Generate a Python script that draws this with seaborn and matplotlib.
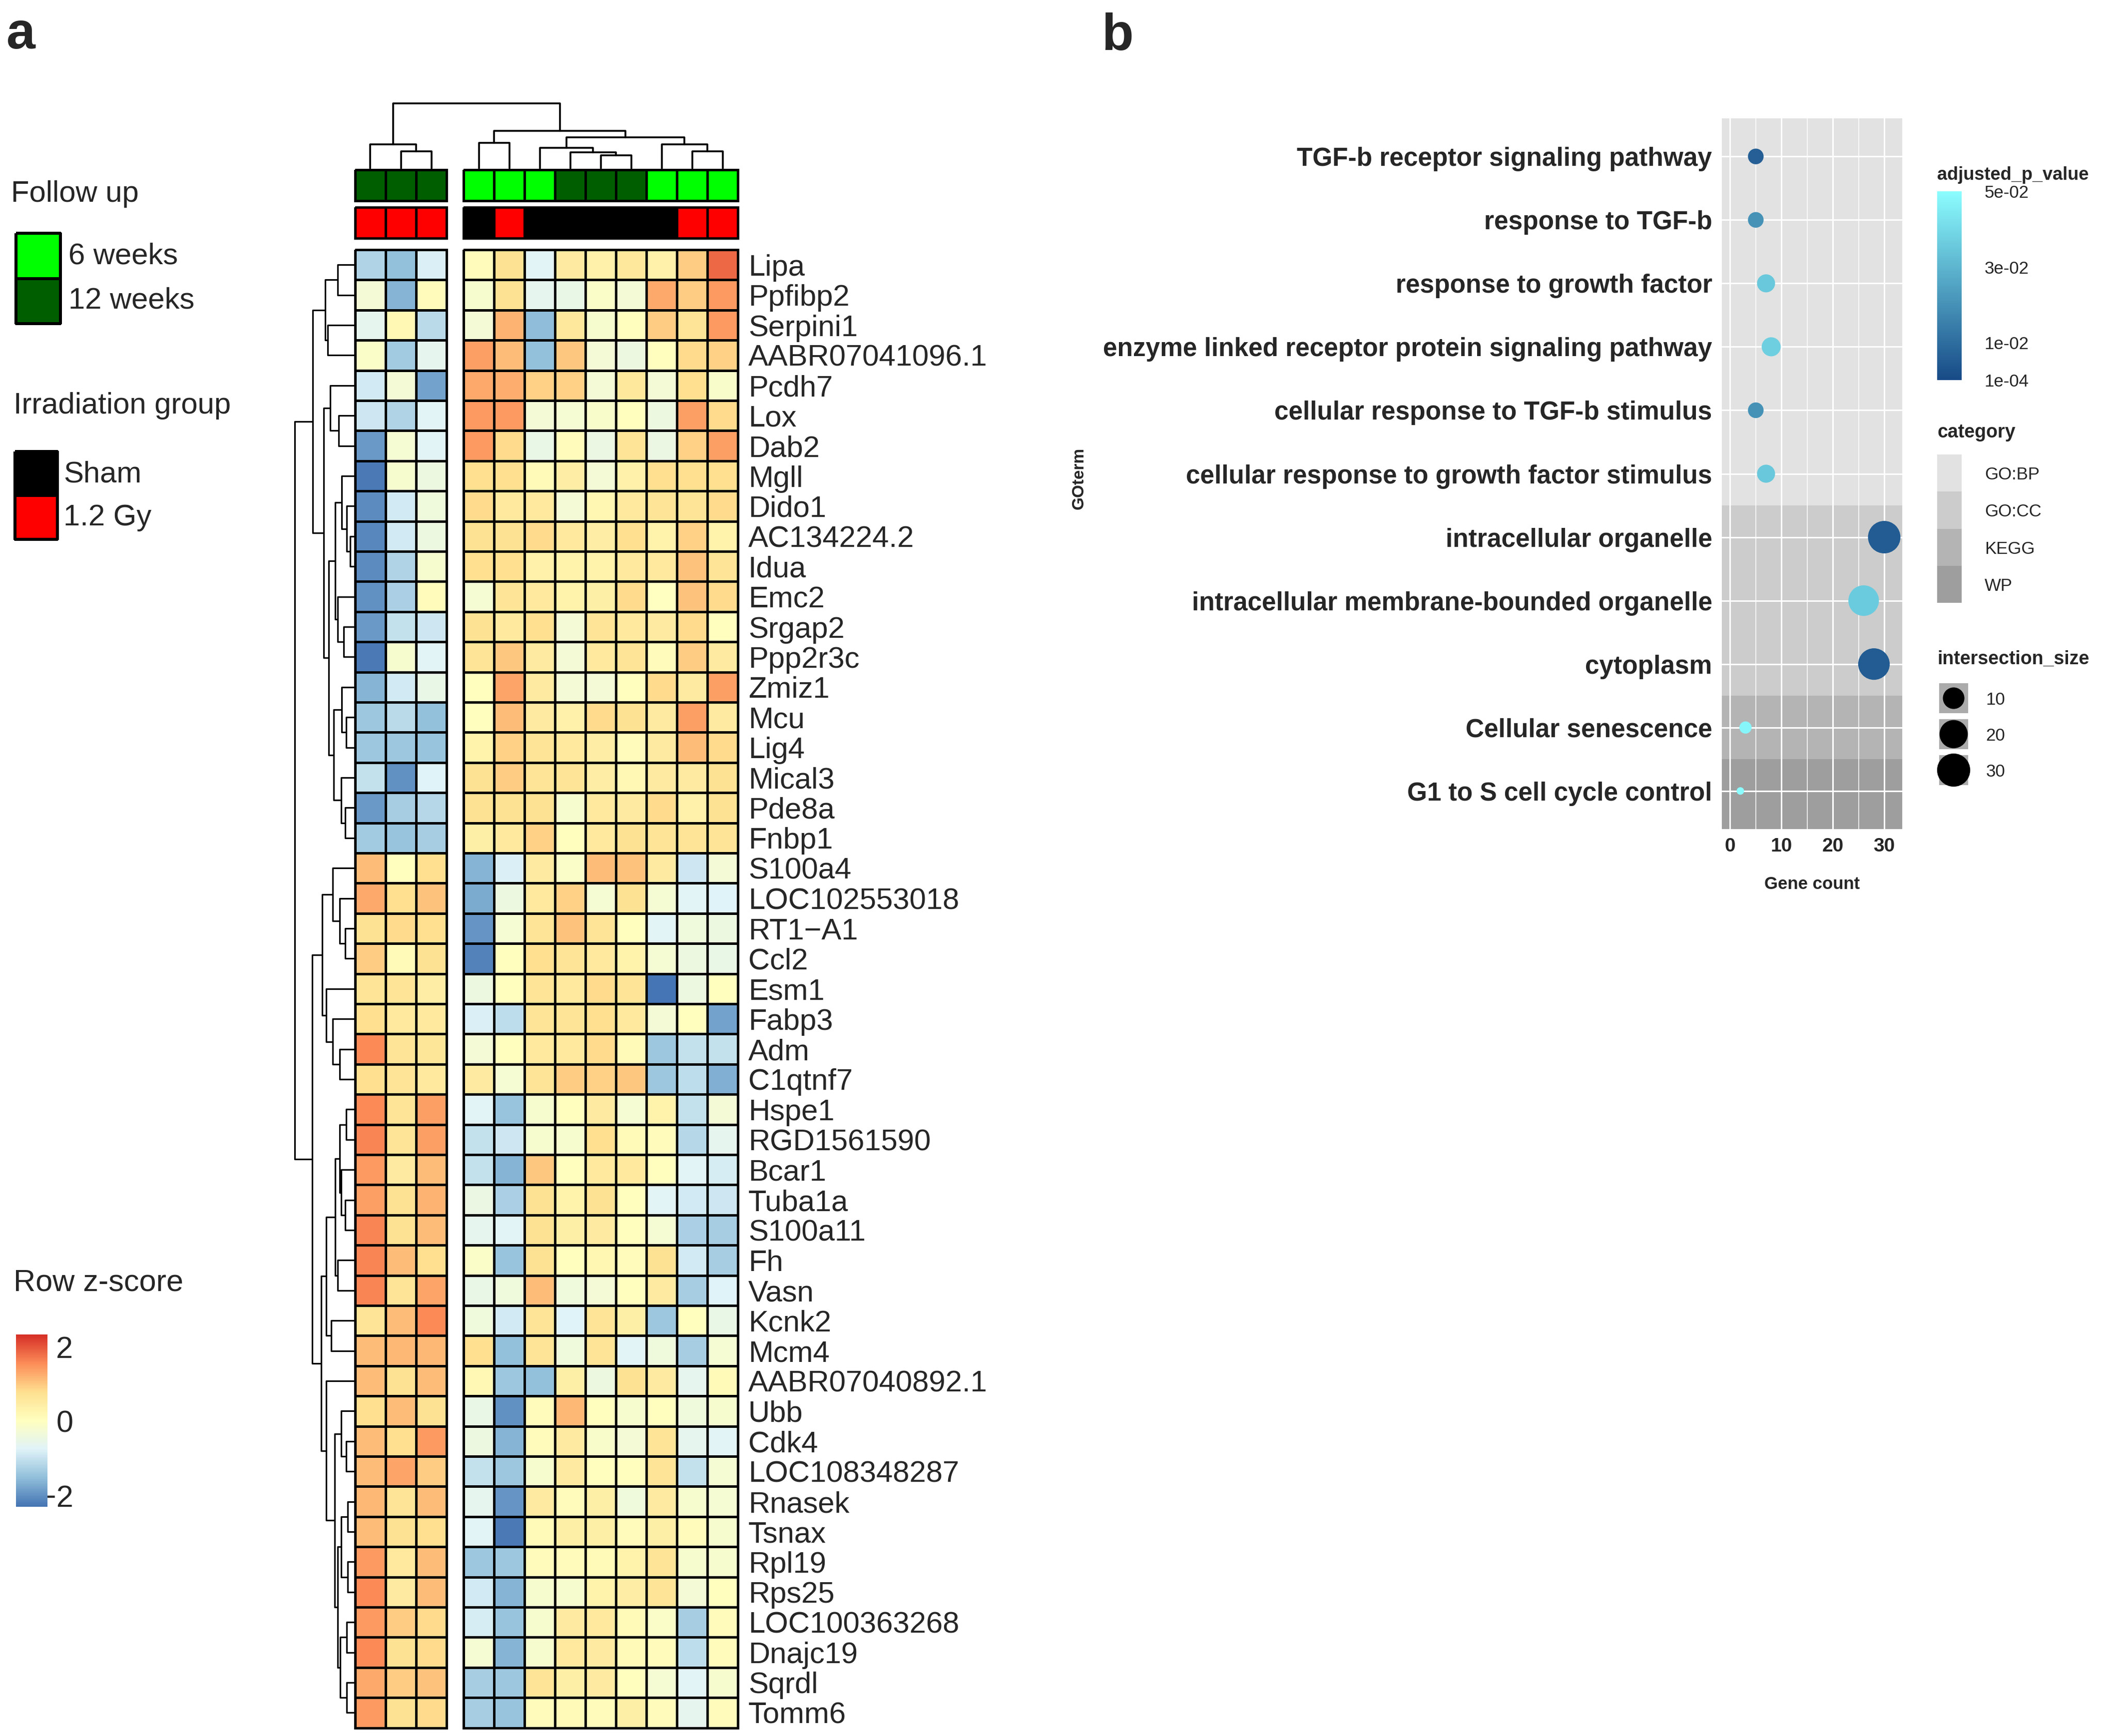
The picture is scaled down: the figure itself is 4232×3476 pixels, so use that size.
import numpy as np
import pandas as pd
import matplotlib
matplotlib.use("Agg")
import matplotlib.pyplot as plt
from matplotlib.colors import LinearSegmentedColormap, ListedColormap, Normalize
from matplotlib.cm import ScalarMappable
from matplotlib.patches import Rectangle
import seaborn as sns

sns.set_style("white")
plt.rcParams["font.family"] = ["Liberation Sans", "DejaVu Sans"]

# ---------------- panel a: heatmap data ----------------
genes = ["Lipa", "Ppfibp2", "Serpini1", "AABR07041096.1", "Pcdh7", "Lox", "Dab2",
         "Mgll", "Dido1", "AC134224.2", "Idua", "Emc2", "Srgap2", "Ppp2r3c", "Zmiz1",
         "Mcu", "Lig4", "Mical3", "Pde8a", "Fnbp1", "S100a4", "LOC102553018",
         "RT1\u2212A1", "Ccl2", "Esm1", "Fabp3", "Adm", "C1qtnf7", "Hspe1", "RGD1561590",
         "Bcar1", "Tuba1a", "S100a11", "Fh", "Vasn", "Kcnk2", "Mcm4", "AABR07040892.1",
         "Ubb", "Cdk4", "LOC108348287", "Rnasek", "Tsnax", "Rpl19", "Rps25",
         "LOC100363268", "Dnajc19", "Sqrdl", "Tomm6"]
samples = ["S%d" % i for i in range(1, 13)]
n_left = 3  # samples in the first column cluster

follow_up = ["12 weeks"] * 3 + ["6 weeks"] * 3 + ["12 weeks"] * 3 + ["6 weeks"] * 3
irradiation = ["1.2 Gy"] * 3 + ["Sham", "1.2 Gy", "Sham", "Sham", "Sham", "Sham",
                                "Sham", "1.2 Gy", "1.2 Gy"]

zscore = [
    [-1.2, -1.5, -0.8, 0.1, 0.75, -0.7, 0.5, 0.35, 0.6, 0.35, 0.95, 1.85],
    [-0.3, -1.6, 0.1, -0.2, 0.75, -0.6, -0.5, -0.1, -0.3, 1.3, 0.95, 1.45],
    [-0.6, 0.2, -1.1, -0.3, 1.2, -1.55, 0.6, -0.2, 0.05, 0.95, 0.7, 1.45],
    [-0.1, -1.35, -0.6, 1.4, 1.1, -1.5, 1.0, -0.3, -0.4, 0.05, 0.85, 0.9],
    [-0.9, -0.3, -1.8, 1.3, 1.25, 0.9, 0.9, -0.3, 0.6, -0.3, 0.8, -0.15],
    [-0.95, -1.2, -0.7, 1.45, 1.45, -0.3, -0.25, -0.15, 0.05, -0.4, 1.4, 0.85],
    [-1.9, -0.25, -0.7, 1.45, 0.85, -0.5, 0.1, -0.45, 0.7, -0.45, 0.9, 1.4],
    [-2.2, -0.2, -0.4, 0.8, 0.8, 0.15, 0.45, -0.3, 0.35, 0.8, 0.8, 0.8],
    [-2.05, -0.9, -0.35, 0.85, 0.55, 0.55, -0.3, 0.25, 0.55, 0.7, 0.7, 0.85],
    [-2.1, -0.9, -0.4, 0.75, 0.75, 0.85, 0.55, 0.45, 0.8, 0.3, 0.9, 0.3],
    [-2.05, -1.2, -0.2, 0.8, 0.8, 0.35, 0.3, 0.3, 0.55, 0.55, 1.05, 0.7],
    [-2.0, -1.25, 0.1, -0.25, 0.7, 0.55, 0.3, 0.4, 0.85, 0.0, 1.05, 0.85],
    [-1.9, -1.0, -0.95, 0.75, 0.55, 0.8, -0.3, 0.7, 0.55, 0.5, 0.85, 0.05],
    [-2.2, -0.2, -0.7, 0.7, 1.0, 0.5, -0.3, 0.55, 0.7, 0.1, 0.95, 0.5],
    [-1.6, -0.9, -0.5, 0.05, 1.35, 0.5, -0.3, -0.3, 0.05, 0.85, 0.5, 1.4],
    [-1.4, -1.1, -1.5, 0.05, 1.1, 0.5, 0.35, 0.85, 0.75, 0.5, 1.4, 0.5],
    [-1.4, -1.4, -1.45, 0.3, 0.9, 0.7, 0.55, 0.45, 0.1, 0.5, 1.1, 0.85],
    [-1.0, -2.0, -0.75, 0.75, 0.95, 0.7, 0.7, 0.45, 0.2, 0.5, 0.5, 0.75],
    [-1.9, -1.3, -1.15, 0.75, 0.75, 0.75, -0.2, 0.55, 0.5, 0.85, 0.35, 0.75],
    [-1.35, -1.45, -1.3, 0.4, 0.55, 0.9, 0.05, 0.55, 0.75, 0.7, 0.7, 0.7],
    [1.1, 0.05, 0.8, -1.6, -0.8, 0.5, -0.1, 1.1, 1.05, 0.5, -0.95, -0.3],
    [1.3, 0.8, 1.05, -1.7, -0.4, 0.55, 0.9, -0.25, 0.75, -0.25, -0.7, -0.75],
    [0.75, 0.85, 0.8, -1.95, -0.25, 0.7, 1.05, 0.7, 0.05, -0.7, -0.35, -0.4],
    [0.95, 0.15, 0.75, -2.15, 0.05, 0.8, 0.7, 0.55, 0.3, -0.25, -0.4, -0.5],
    [0.7, 0.7, 0.45, -0.4, 0.05, 0.7, 0.55, 0.85, 0.7, -2.25, -0.4, 0.05],
    [0.8, 0.55, 0.55, -0.8, -1.05, 0.7, 0.7, 0.8, 0.55, -0.3, 0.05, -1.8],
    [1.55, 0.7, 0.65, -0.3, 0.05, 0.55, 0.55, 0.85, 0.15, -1.4, -1.0, -1.0],
    [0.8, 0.7, 0.55, 0.5, -0.25, 0.7, 0.95, 0.9, 1.0, -1.4, -1.05, -1.65],
    [1.55, 0.7, 1.4, -0.7, -1.45, -0.2, 0.05, 0.5, -0.25, 0.3, -1.0, -0.3],
    [1.6, 0.7, 1.4, -1.0, -0.95, -0.2, -0.2, 0.8, 0.15, 0.1, -1.15, -0.6],
    [1.45, 0.5, 1.1, -1.0, -1.6, 1.0, 0.05, 0.55, 0.55, 0.05, -0.7, -0.85],
    [1.4, 0.75, 1.2, -0.45, -1.25, 0.75, 0.3, 0.75, 0.05, -0.7, -0.9, -0.95],
    [1.6, 0.75, 1.1, -0.6, -0.7, 0.75, 0.4, 0.5, 0.05, -0.25, -1.25, -1.3],
    [1.6, 1.1, 0.8, -0.1, -1.45, 0.75, 0.05, 0.25, 0.1, 0.75, -0.9, -1.3],
    [1.6, 0.7, 1.35, -0.5, -0.35, 1.1, -0.35, -0.3, 0.05, 0.5, -1.3, -0.75],
    [0.7, 1.1, 1.55, -0.35, -0.9, 0.7, -0.75, 0.7, 0.4, -1.4, 0.05, -0.5],
    [1.1, 1.15, 1.15, 0.8, -1.5, 0.7, -0.35, 0.7, -0.7, -0.35, -1.3, -0.25],
    [1.1, 0.75, 1.1, 0.2, -1.4, -1.5, 0.4, -0.4, 0.75, 0.5, -0.6, 0.15],
    [0.8, 1.1, 0.75, -0.5, -2.0, 0.1, 1.15, 0.05, -0.2, 0.05, -0.35, -0.2],
    [1.1, 0.8, 1.45, -0.4, -1.6, 0.1, 0.5, -0.15, -0.3, 0.7, -0.6, -0.7],
    [1.1, 1.35, 0.95, -1.0, -1.4, -0.2, 0.5, 0.05, 0.05, 0.7, -1.0, -0.25],
    [1.15, 0.7, 1.1, -0.6, -1.95, 0.5, 0.1, 0.4, -0.35, 0.5, -0.2, -0.25],
    [1.1, 0.75, 0.8, -0.7, -2.2, 0.15, 0.4, 0.4, 0.1, 0.4, 0.1, -0.2],
    [1.45, 0.55, 1.1, -1.4, -1.4, 0.1, 0.1, 0.15, 0.3, 0.7, -0.2, -0.2],
    [1.55, 0.5, 1.1, -0.9, -1.6, -0.2, -0.2, 0.3, 0.45, 0.7, -0.3, 0.05],
    [1.45, 0.95, 0.85, -0.85, -1.45, -0.2, 0.5, 0.55, 0.15, -0.1, -1.3, 0.1],
    [1.55, 0.75, 0.85, -0.25, -1.6, -0.2, 0.55, 0.5, 0.15, 0.1, -1.05, 0.1],
    [1.3, 0.95, 1.05, -1.3, -1.4, 0.7, 0.4, 0.5, 0.05, -0.25, -0.7, -0.2],
    [1.45, 0.75, 0.85, -1.3, -1.45, 0.1, 0.15, 0.1, 0.4, 0.1, -0.6, 0.1],
]

# dendrograms as nested [left, right, height]; ints are leaf indices
row_tree = [
    [[[0, 1, 105], [2, 3, 165], 180],
     [[4, [5, 6, 100], 150],
      [[[7, [8, [9, 10, 30], 50], 80], [11, [12, 13, 70], 105], 120],
       [[14, [15, 16, 55], 80], [17, [18, 19, 60], 85], 130], 160], 190], 255],
    [[[20, [21, [22, 23, 60], 95], 135], [24, [25, [26, 27, 95], 135], 175], 200],
     [[[[[28, 29, 55], [30, [31, 32, 60], 85], 95], [33, 34, 105], 120], [35, 36, 145], 175],
      [37, [[38, [39, 40, 55], 85],
            [[[41, 42, 45], [43, 44, 45], 85], [[45, 46, 50], [47, 48, 50], 90], 105], 125], 175],
      205], 260],
    365]
col_tree = [[0, [1, 2, 100], 140],
            [[3, 4, 150], [[5, [6, [7, 8, 75], 95], 120], [9, [10, 11, 100], 140], 180], 220],
            380]

# ---------------- panel b: enrichment data ----------------
go_terms = ["TGF-b receptor signaling pathway", "response to TGF-b",
            "response to growth factor", "enzyme linked receptor protein signaling pathway",
            "cellular response to TGF-b stimulus", "cellular response to growth factor stimulus",
            "intracellular organelle", "intracellular membrane-bounded organelle",
            "cytoplasm", "Cellular senescence", "G1 to S cell cycle control"]
go_category = ["GO:BP"] * 6 + ["GO:CC"] * 3 + ["KEGG", "WP"]
gene_count = [5, 5, 7, 8, 5, 7, 30, 26, 28, 3, 2]
adj_p = [0.006, 0.02, 0.035, 0.037, 0.02, 0.035, 0.005, 0.036, 0.005, 0.048, 0.05]
size_breaks = [10, 20, 30]

# ---------------- figure ----------------
W, H = 4232, 3476
fig = plt.figure(figsize=(W / 100, H / 100), dpi=100)


def px_axes(x0, y0, x1, y1):
    return fig.add_axes([x0 / W, 1 - y1 / H, (x1 - x0) / W, (y1 - y0) / H])


def px_text(x, y, s, **kw):
    return fig.text(x / W, 1 - y / H, s, **kw)


def draw_tree(ax, node, leaf_pos, top):
    if isinstance(node, int):
        return leaf_pos[node], 0.0
    a, b, h = node
    pa, ha = draw_tree(ax, a, leaf_pos, top)
    pb, hb = draw_tree(ax, b, leaf_pos, top)
    pos, hts = [pa, pa, pb, pb], [ha, h, h, hb]
    if top:
        ax.plot(pos, hts, color="black", lw=2.6, clip_on=False)
    else:
        ax.plot(hts, pos, color="black", lw=2.3, clip_on=False)
    return (pa + pb) / 2, h


# heatmap
z = pd.DataFrame(zscore, index=genes, columns=samples)
cmap_z = LinearSegmentedColormap.from_list(
    "rdylbu", ["#4575B4", "#91BFDB", "#E0F3F8", "#FFFFBF", "#FEE090", "#FC8D59", "#D73027"], N=100)
zmin, zmax = -2.29, 2.33
CELL_W, ROW_H, TOP = 61, 60.4, 500
block_x = [711, 928]
blocks = [z.iloc[:, :n_left], z.iloc[:, n_left:]]
hm_bottom = TOP + ROW_H * len(genes)

for k, (blk, x0) in enumerate(zip(blocks, block_x)):
    ax = px_axes(x0, TOP, x0 + CELL_W * blk.shape[1], hm_bottom)
    sns.heatmap(blk, ax=ax, cmap=cmap_z, vmin=zmin, vmax=zmax, cbar=False,
                linewidths=3.5, linecolor="black", xticklabels=False,
                yticklabels=(k == 1))
    ax.collections[0].set_clip_on(False)
    ax.set_xlabel("")
    ax.set_ylabel("")
    if k == 1:
        ax.yaxis.tick_right()
        ax.set_yticklabels(genes, rotation=0, fontsize=43)
        ax.tick_params(axis="y", length=0, pad=15)

# annotation bars
fu_colors = {"6 weeks": "#00FF00", "12 weeks": "#005E00"}
ir_colors = {"Sham": "#000000", "1.2 Gy": "#FF0000"}
for values, cdict, (y0, y1) in [(follow_up, fu_colors, (340, 402)),
                                 (irradiation, ir_colors, (415, 477))]:
    keys = list(cdict)
    codes = np.array([keys.index(v) for v in values])
    parts = [codes[:n_left], codes[n_left:]]
    for part, x0 in zip(parts, block_x):
        ax = px_axes(x0, y0, x0 + CELL_W * len(part), y1)
        sns.heatmap(part[None, :], ax=ax, cmap=ListedColormap([cdict[c] for c in keys]),
                    vmin=-0.5, vmax=1.5, cbar=False, linewidths=3.5, linecolor="black",
                    xticklabels=False, yticklabels=False)
        ax.collections[0].set_clip_on(False)

# column dendrogram
x_end = block_x[1] + CELL_W * (len(samples) - n_left)
col_pos = [block_x[0] + CELL_W * (i + 0.5) for i in range(n_left)] + \
          [block_x[1] + CELL_W * (i + 0.5) for i in range(len(samples) - n_left)]
axd = px_axes(block_x[0], 207, x_end, 337)
draw_tree(axd, col_tree, col_pos, top=True)
axd.set_xlim(block_x[0], x_end)
axd.set_ylim(0, col_tree[2])
axd.axis("off")

# row dendrogram
axr = px_axes(590, TOP, block_x[0], hm_bottom)
draw_tree(axr, row_tree, [i + 0.5 for i in range(len(genes))], top=False)
axr.set_ylim(len(genes), 0)
axr.set_xlim(row_tree[2], 0)
axr.axis("off")

# panel a legends
px_text(13, 97, "a", fontsize=75, fontweight="bold")
px_text(22, 388, "Follow up", fontsize=43, va="center")
axl = px_axes(32, 467, 121, 648)
sns.heatmap(np.arange(2)[:, None], ax=axl, cmap=ListedColormap(list(fu_colors.values())),
            vmin=-0.5, vmax=1.5, cbar=False, linewidths=3, linecolor="black",
            xticklabels=False, yticklabels=False)
axl.collections[0].set_clip_on(False)
for i, lab in enumerate(fu_colors):
    px_text(137, 513 + 89 * i, lab, fontsize=43, va="center")

px_text(27, 812, "Irradiation group", fontsize=43, va="center")
axl = px_axes(30, 904, 115, 1080)
sns.heatmap(np.arange(2)[:, None], ax=axl, cmap=ListedColormap(list(ir_colors.values())),
            vmin=-0.5, vmax=1.5, cbar=False, linewidths=3, linecolor="black",
            xticklabels=False, yticklabels=False)
axl.collections[0].set_clip_on(False)
for i, lab in enumerate(ir_colors):
    px_text(127, 950 + 86 * i, lab, fontsize=43, va="center")

px_text(27, 2569, "Row z-score", fontsize=44, va="center")
cax = px_axes(32, 2672, 95, 3017)
cb = fig.colorbar(ScalarMappable(norm=Normalize(zmin, zmax), cmap=cmap_z), cax=cax,
                  ticks=[-2, 0, 2])
cb.outline.set_visible(False)
cax.tick_params(length=0, labelsize=44, pad=37)
for lab in cax.get_yticklabels():
    lab.set_horizontalalignment("right")

# ---------------- panel b ----------------
px_text(2205, 100, "b", fontsize=75, fontweight="bold")
go = pd.DataFrame({"term": go_terms, "category": go_category,
                   "gene_count": gene_count, "adjusted_p_value": adj_p})
cat_colors = {"GO:BP": "#E2E2E2", "GO:CC": "#CCCCCC", "KEGG": "#B4B4B4", "WP": "#9E9E9E"}
cmap_p = LinearSegmentedColormap.from_list("pval", ["#174A87", "#8CFDFF"])
p_norm = Normalize(1e-4, 5e-2)
cmin, cmax = min(gene_count), max(gene_count)


def dot_area(n):
    d_px = 10 * (1.5 + 5 * np.sqrt((n - cmin) / (cmax - cmin)))
    return (d_px * 0.72) ** 2


axb = px_axes(3447, 237, 3808, 1660)
n_terms = len(go_terms)
for i, cat in enumerate(go_category):
    lo = i - 0.5 if i > 0 else -0.6
    hi = i + 0.5 if i < n_terms - 1 else n_terms - 0.4
    axb.axhspan(lo, hi, color=cat_colors[cat], lw=0, zorder=0)

sns.scatterplot(data=go, x="gene_count", y="term", hue="adjusted_p_value",
                palette=cmap_p, hue_norm=p_norm, size="gene_count",
                sizes={n: dot_area(n) for n in set(gene_count)}, legend=False,
                edgecolor="none", linewidth=0, ax=axb, zorder=3)
axb.set_xlim(-1.6, 33.5)
axb.set_ylim(n_terms - 0.4, -0.6)
axb.set_xticks([0, 10, 20, 30])
axb.set_xticks([5, 15, 25], minor=True)
axb.set_axisbelow(True)
axb.grid(True, which="major", color="white", lw=2.2)
axb.grid(True, which="minor", axis="x", color="white", lw=1.1)
for s in axb.spines.values():
    s.set_visible(False)
axb.tick_params(which="minor", length=0)
axb.tick_params(axis="y", length=6, width=1.5, color="#4d4d4d", labelsize=37, pad=8)
axb.tick_params(axis="x", length=6, width=1.5, color="#4d4d4d", labelsize=28, pad=6)
for lab in axb.get_yticklabels() + axb.get_xticklabels():
    lab.set_fontweight("bold")
axb.set_xlabel("")
axb.set_ylabel("")
px_text(3628, 1770, "Gene count", fontsize=25, fontweight="bold", ha="center", va="center")
px_text(2160, 958, "GOterm", fontsize=24, fontweight="bold", ha="center", va="center",
        rotation=90)

# colour legend
px_text(3878, 351, "adjusted_p_value", fontsize=26, fontweight="bold", va="center")
cax2 = px_axes(3878, 383, 3927, 761)
cb2 = fig.colorbar(ScalarMappable(norm=p_norm, cmap=cmap_p), cax=cax2,
                   ticks=[1e-4, 1e-2, 3e-2, 5e-2])
cb2.outline.set_visible(False)
cb2.set_ticklabels(["1e-04", "1e-02", "3e-02", "5e-02"])
cax2.tick_params(direction="in", length=8, width=2, color="white", labelsize=25, pad=33)

# category legend
px_text(3878, 866, "category", fontsize=27, fontweight="bold", va="center")
axc = px_axes(3878, 910, 3927, 1207)
sns.heatmap(np.arange(len(cat_colors))[:, None], ax=axc,
            cmap=ListedColormap(list(cat_colors.values())), vmin=-0.5,
            vmax=len(cat_colors) - 0.5, cbar=False, xticklabels=False,
            yticklabels=list(cat_colors))
axc.yaxis.tick_right()
axc.tick_params(axis="y", length=0, labelsize=25, pad=33, labelrotation=0)

# size legend
px_text(3878, 1320, "intersection_size", fontsize=27, fontweight="bold", va="center")
axs = px_axes(3880, 1362, 3942, 1578)
for i in range(len(size_breaks)):
    axs.add_patch(Rectangle((-0.47, i - 0.42), 0.94, 0.84, color="#ABABAB", lw=0))
axs.scatter([0] * len(size_breaks), range(len(size_breaks)),
            s=[dot_area(v) for v in size_breaks], color="black", zorder=3, clip_on=False)
axs.set_xlim(-0.5, 0.5)
axs.set_ylim(len(size_breaks) - 0.5, -0.5)
axs.set_xticks([])
axs.set_yticks(range(len(size_breaks)))
axs.set_yticklabels([str(v) for v in size_breaks])
axs.yaxis.tick_right()
axs.tick_params(axis="y", length=0, labelsize=25, pad=24)
for s in axs.spines.values():
    s.set_visible(False)

fig.savefig("out.png", dpi=100, facecolor="white")
